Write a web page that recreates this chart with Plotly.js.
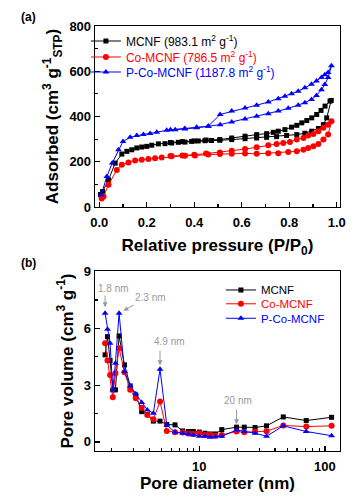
<!DOCTYPE html>
<html><head><meta charset="utf-8">
<script src="https://cdn.plot.ly/plotly-3.0.1.min.js"></script>
<style>html,body{margin:0;padding:0;background:#fff}#chart{width:356px;height:504px}</style>
</head><body><div id="chart"></div>
<script>
// ---------- (a) N2 isotherms: adsorption then desorption branch ----------
const mcnfAdsP = [0.005,0.014,0.039,0.067,0.095,0.116,0.137,0.158,0.179,0.20,0.221,0.249,0.277,0.305,0.333,0.361,0.389,0.417,0.445,0.473,0.508,0.558,0.614,0.663,0.705,0.747,0.789,0.832,0.866,0.895,0.923,0.944,0.958,0.977];
const mcnfAdsV = [55,68,120,194,234,246,253,261,265,268,273,279,280,283,286,287,290,292,293,294,295,298,302,305,308,311,316,320,326,335,347,364,394,471];
const mcnfDesP = [0.972,0.951,0.934,0.916,0.895,0.874,0.853,0.832,0.81,0.782,0.754,0.733,0.705,0.663,0.614,0.558,0.508,0.45,0.40,0.35,0.30];
const mcnfDesV = [468,446,427,409,394,382,372,361,353,342,335,330,324,320,313,305,298,296,292,289,285];

const coAdsP = [0.01,0.018,0.039,0.074,0.095,0.123,0.151,0.179,0.207,0.235,0.263,0.305,0.361,0.403,0.459,0.508,0.558,0.614,0.663,0.712,0.754,0.796,0.832,0.86,0.88,0.902,0.923,0.944,0.964,0.978];
const coAdsV = [38,46,98,164,187,197,206,209,212,216,219,224,227,228,232,234,235,237,235,238,238,243,246,253,261,268,279,298,320,379];
const coDesP = [0.964,0.944,0.923,0.902,0.88,0.86,0.832,0.803,0.775,0.747,0.712,0.663,0.614,0.558,0.508,0.45,0.40,0.35,0.30];
const coDesV = [364,350,335,323,316,305,298,287,283,279,273,264,256,249,241,236,231,228,225];

const pcoAdsP = [0.008,0.032,0.055,0.081,0.10,0.13,0.158,0.186,0.214,0.242,0.284,0.32,0.361,0.41,0.459,0.509,0.558,0.614,0.663,0.712,0.754,0.796,0.838,0.866,0.894,0.915,0.936,0.95,0.964,0.978];
const pcoAdsV = [53,135,195,253,290,308,316,321,325,330,339,342,345,350,357,364,376,389,401,412,424,436,450,461,475,493,518,541,572,624];
const pcoDesP = [0.964,0.95,0.936,0.915,0.894,0.866,0.838,0.81,0.782,0.754,0.712,0.663,0.614,0.558,0.509,0.459,0.41,0.36,0.30];
const pcoDesV = [594,584,572,557,542,527,512,501,490,478,464,450,438,424,409,357,352,347,341];

const namesA = ['MCNF (983.1 m<sup>2</sup> g<sup>-1</sup>)','Co-MCNF (786.5 m<sup>2</sup> g<sup>-1</sup>)','P-Co-MCNF (1187.8 m<sup>2</sup> g<sup>-1</sup>)'];

// ---------- (b) pore size distribution ----------
const poreD = [1.78,1.86,1.95,2.05,2.15,2.30,2.54,2.82,3.12,3.48,3.86,4.31,4.87,5.51,6.41,7.37,8.2,8.96,10.0,11.1,12.2,13.4,15.1,19.8,22.8,27.8,34.3,46.6,71,113];
const mcnfPV = [4.6,5.56,4.3,2.75,2.75,5.6,4.07,2.96,2.48,1.6,1.45,1.1,1.1,0.92,0.9,0.58,0.55,0.55,0.52,0.46,0.42,0.42,0.65,0.78,0.78,0.76,0.85,1.32,1.13,1.3];
const coPV   = [5.21,4.3,3.54,2.36,3.63,4.95,3.68,2.75,2.31,1.81,1.42,1.2,2.13,0.58,0.51,0.5,0.45,0.42,0.46,0.37,0.37,0.33,0.37,0.55,0.51,0.55,0.57,0.87,0.81,0.85];
const pcoPV  = [6.8,5.95,5.21,2.75,4.16,6.8,3.72,2.96,2.54,2.08,1.69,1.52,3.84,0.9,0.51,0.46,0.42,0.37,0.3,0.3,0.25,0.27,0.3,0.63,0.55,0.46,0.3,0.85,0.55,0.33];
const namesB = ['MCNF','Co-MCNF','P-Co-MCNF'];

// peak labels: [diameter, volume of marked point, label]
const peakLabels = [[1.78, 6.8, '1.8 nm'], [2.30, 6.8, '2.3 nm'], [4.87, 3.84, '4.9 nm'], [19.8, 0.78, '20 nm']];

const colors = ['#000000', '#ff0000', '#0000ff'];
const symbols = ['square', 'circle', 'triangle-up'];
const FONT = 'Liberation Sans, Arial, sans-serif';

function span(c, t) { return '<span style="color:' + c + '">' + t + '</span>'; }

const isoP = [mcnfAdsP.concat(mcnfDesP), coAdsP.concat(coDesP), pcoAdsP.concat(pcoDesP)];
const isoV = [mcnfAdsV.concat(mcnfDesV), coAdsV.concat(coDesV), pcoAdsV.concat(pcoDesV)];
const psd = [mcnfPV, coPV, pcoPV];

// one legend per entry so rows can sit as tightly as in the original
const legA = ['legend', 'legend2', 'legend3'];
const legB = ['legend4', 'legend5', 'legend6'];

const traces = [];
for (let i = 0; i < 3; i++) {
  traces.push({
    x: isoP[i], y: isoV[i], xaxis: 'x', yaxis: 'y', type: 'scatter', mode: 'lines+markers',
    name: span(colors[i], namesA[i]), legend: legA[i],
    line: {color: colors[i], width: 1},
    marker: {color: colors[i], symbol: symbols[i], size: i === 0 ? 5 : 6}
  });
}
for (let i = 0; i < 3; i++) {
  traces.push({
    x: poreD, y: psd[i], xaxis: 'x2', yaxis: 'y2', type: 'scatter', mode: 'lines+markers',
    name: span(colors[i], namesB[i]), legend: legB[i],
    line: {color: colors[i], width: 1},
    marker: {color: colors[i], symbol: symbols[i], size: i === 0 ? 5 : 6}
  });
}

const tickFont = {family: FONT, size: 13, color: '#000', weight: 'bold'};
const titleFont = {family: FONT, size: 17, color: '#000', weight: 'bold'};
const axBase = {
  showline: true, linecolor: '#000', linewidth: 1.3, mirror: true,
  ticks: 'inside', ticklen: 5, tickwidth: 1.2, tickcolor: '#000',
  showgrid: false, zeroline: false, tickfont: tickFont
};

const annotations = [
  {xref: 'paper', yref: 'paper', x: -0.271, y: 1.021, text: '<b>(a)</b>', showarrow: false,
   font: {family: FONT, size: 12, color: '#000'}, xanchor: 'center', yanchor: 'middle'},
  {xref: 'paper', yref: 'paper', x: -0.271, y: 0.442, text: '<b>(b)</b>', showarrow: false,
   font: {family: FONT, size: 12, color: '#000'}, xanchor: 'center', yanchor: 'middle'}
];
const arrowSpec = [[0, -19, 6, 8, 25], [16, -9, 5, 31, 16], [0, -20, 4, 9, 28], [0, -19, 3, 1, 27]];
peakLabels.forEach((p, k) => {
  const s = arrowSpec[k];
  annotations.push({xref: 'x2', yref: 'y2', x: Math.log10(p[0]), y: p[1], text: '', showarrow: true,
    ax: s[0], ay: s[1], standoff: s[2], arrowhead: 2, arrowsize: 1, arrowwidth: 1, arrowcolor: '#999'});
  annotations.push({xref: 'x2', yref: 'y2', x: Math.log10(p[0]), y: p[1], text: p[2], showarrow: false,
    xshift: s[3], yshift: s[4], font: {family: FONT, size: 10, color: '#999'}});
});

function leg(x, y, size) {
  return {x: x, y: y, xanchor: 'left', yanchor: 'top', bgcolor: 'rgba(0,0,0,0)',
    font: {family: FONT, size: size, color: '#000'}};
}

const layout = {
  width: 356, height: 504,
  margin: {l: 95, r: 16, t: 26, b: 53},
  paper_bgcolor: '#fff', plot_bgcolor: '#fff',
  font: {family: FONT, color: '#000'},
  xaxis: Object.assign({}, axBase, {
    anchor: 'y', domain: [0, 1], range: [-0.018, 1.014], tick0: 0, dtick: 0.2, tickformat: '.1f',
    ticklabelstandoff: 3,
    minor: {dtick: 0.1, ticks: 'inside', ticklen: 3, tickcolor: '#000'},
    title: {text: 'Relative pressure (P/P<sub>0</sub>)', font: titleFont, standoff: 10}
  }),
  yaxis: Object.assign({}, axBase, {
    anchor: 'x', domain: [0.5741, 1], range: [0, 800], tick0: 0, dtick: 200,
    minor: {dtick: 100, ticks: 'inside', ticklen: 3, tickcolor: '#000'},
    title: {text: 'Adsorbed (cm<sup>3</sup> g<sup>-1</sup><sub>STP</sub>)', font: titleFont, standoff: 6}
  }),
  xaxis2: Object.assign({}, axBase, {
    anchor: 'y2', domain: [0, 1], type: 'log', range: [0.17, 2.12],
    tickvals: [10, 100], ticktext: ['10', '100'], ticklabelstandoff: 3,
    minor: {tickvals: [2,3,4,5,6,7,8,9,20,30,40,50,60,70,80,90], ticks: 'inside', ticklen: 3, tickcolor: '#000'},
    title: {text: 'Pore diameter (nm)', font: titleFont, standoff: 2}
  }),
  yaxis2: Object.assign({}, axBase, {
    anchor: 'x2', domain: [0, 0.4235], range: [-0.48, 9.03], tick0: 0, dtick: 3,
    minor: {dtick: 1.5, ticks: 'inside', ticklen: 3, tickcolor: '#000'},
    title: {text: 'Pore volume (cm<sup>3</sup> g<sup>-1</sup>)', font: titleFont, standoff: 6}
  }),
  legend: leg(-0.037, 0.9988, 12),
  legend2: leg(-0.037, 0.9612, 12),
  legend3: leg(-0.037, 0.9259, 12),
  legend4: leg(0.514, 0.413, 11.5),
  legend5: leg(0.514, 0.3805, 11.5),
  legend6: leg(0.514, 0.3464, 11.5),
  showlegend: true,
  annotations: annotations
};

Plotly.newPlot('chart', traces, layout, {staticPlot: true, displayModeBar: false});
</script></body></html>
